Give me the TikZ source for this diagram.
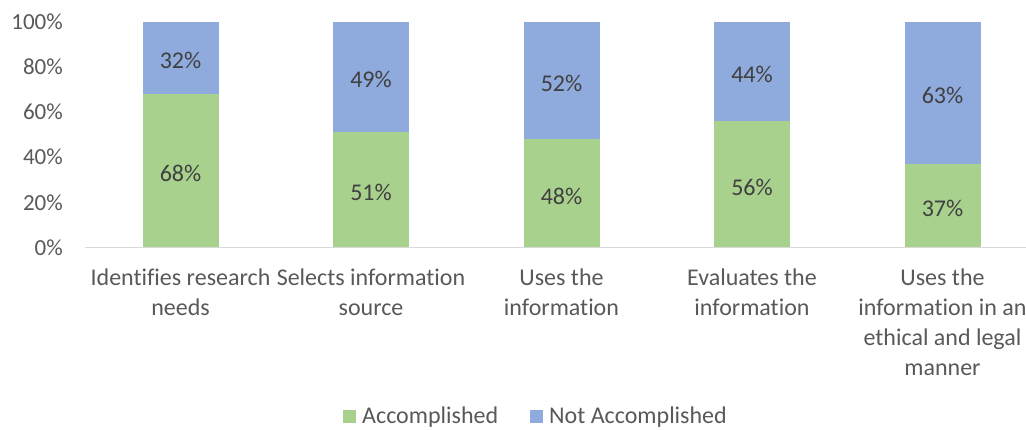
\documentclass[tikz,border=0pt]{standalone}
\usepackage{fontspec}
\setmainfont{Carlito}[Ligatures={NoCommon}]
\definecolor{accgreen}{HTML}{A9D18E}
\definecolor{notblue}{HTML}{8FAADC}
\definecolor{labgray}{HTML}{595959}
\definecolor{datagray}{HTML}{404040}
\definecolor{axisgray}{HTML}{D9D9D9}
\begin{document}
\begin{tikzpicture}[x=1pt,y=-1pt,
  ticklab/.style={anchor=east,text=labgray,font=\fontsize{23}{28}\selectfont,inner sep=0pt},
  datalab/.style={text=datagray,font=\fontsize{24}{28}\selectfont,inner sep=0pt},
  catlab/.style={anchor=north,text=labgray,font=\fontsize{24}{30}\selectfont,align=center,inner sep=0pt},
  leglab/.style={anchor=base west,text=labgray,font=\fontsize{24}{28}\selectfont,inner sep=0pt}]
\fill[white] (0,0) rectangle (1026,429);
\useasboundingbox (0,0) rectangle (1026,429);
% y axis ticks
\foreach \v [count=\i from 0] in {0,20,40,60,80,100} {
  \node[ticklab] (t\i) at (63,{247.5-2.26*\v}) {\v\%};
}
% bars
\foreach \a/\n [count=\i from 0] in {68/32,51/49,48/52,56/44,37/63} {
  \pgfmathsetmacro{\cx}{180.5+190.5*\i}
  \pgfmathsetmacro{\ya}{247.5-2.26*\a}
  \fill[accgreen] ({\cx-38},247.5) rectangle ({\cx+38},\ya);
  \fill[notblue] ({\cx-38},\ya) rectangle ({\cx+38},21.5);
  \node[datalab] (da\i) at (\cx,{(247.5+\ya)/2+3}) {\a\%};
  \node[datalab] (dn\i) at (\cx,{(21.5+\ya)/2+3}) {\n\%};
}
\draw[axisgray,line width=1.5pt] (85,247.5) -- (1026,247.5);
% category labels
\node[catlab] (c0) at (180.5,269) {Identifies research\\needs};
\node[catlab] (c1) at (371,269) {Selects information\\source};
\node[catlab] (c2) at (561.5,269) {Uses the\\information};
\node[catlab] (c3) at (752,269) {Evaluates the\\information};
\node[catlab] (c4) at (942.5,269) {Uses the\\information in an\\ethical and legal\\manner};
% legend
\fill[accgreen] (343,410) rectangle (356,423);
\node[leglab] (la) at (362,423) {Accomplished};
\fill[notblue] (530,410) rectangle (543,423);
\node[leglab] (ln) at (549,423) {Not Accomplished};
\end{tikzpicture}
\end{document}
